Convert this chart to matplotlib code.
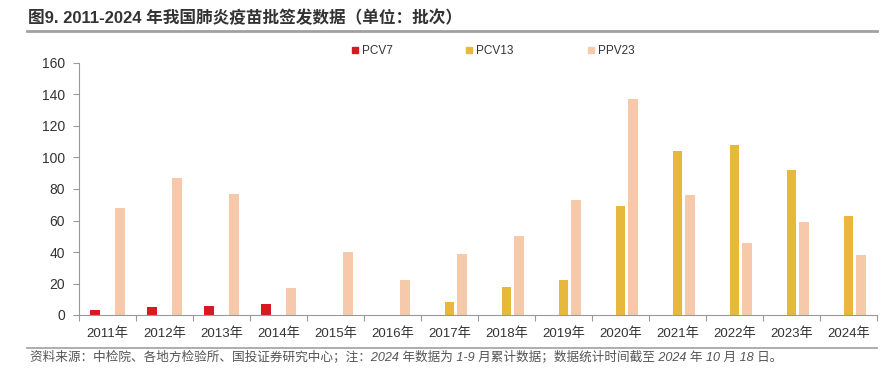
import matplotlib
matplotlib.use("Agg")
import matplotlib.pyplot as plt
import numpy as np
from matplotlib.lines import Line2D

plt.rcParams['font.family'] = ['Liberation Sans', 'Noto Sans CJK SC', 'DejaVu Sans']

years = ['2011年', '2012年', '2013年', '2014年', '2015年', '2016年', '2017年',
         '2018年', '2019年', '2020年', '2021年', '2022年', '2023年', '2024年']
pcv7 = [3, 5, 6, 7, 0, 0, 0, 0, 0, 0, 0, 0, 0, 0]
pcv13 = [0, 0, 0, 0, 0, 0, 8, 18, 22, 69, 104, 108, 92, 63]
ppv23 = [68, 87, 77, 17, 40, 22, 39, 50, 73, 137, 76, 46, 59, 38]
series_names = ['PCV7', 'PCV13', 'PPV23']
colors = ['#D71A21', '#E8B83C', '#F7C9AB']
yticks = [0, 20, 40, 60, 80, 100, 120, 140, 160]

title = '图9. 2011-2024 年我国肺炎疫苗批签发数据（单位：批次）'
footer = ('资料来源：中检院、各地方检验所、国投证券研究中心；注：2024 年数据为 1-9 月累计数据；'
          '数据统计时间截至 2024 年 10 月 18 日。')

fig = plt.figure(figsize=(8.88, 3.75), dpi=100)
ax = fig.add_axes([79/888, 1-315/375, (877-79)/888, (315-63)/375])

x = np.arange(len(years))
w = 0.175
offsets = [-0.22, 0.0, 0.22]
for vals, off, c in zip([pcv7, pcv13, ppv23], offsets, colors):
    v = np.array(vals, dtype=float)
    mask = v > 0
    ax.bar(x[mask] + off, v[mask], width=w, color=c, edgecolor='none', zorder=2)

ax.set_xlim(-0.5, len(years) - 0.5)
ax.set_ylim(0, 160)
ax.set_yticks(yticks)
ax.set_yticklabels([str(t) for t in yticks], fontsize=10, color='#333333')
ax.set_xticks(x)
ax.set_xticklabels(years, fontsize=9.5, color='#333333')
ax.tick_params(axis='x', length=0, pad=9)
ax.set_xticks(np.arange(-0.5, len(years), 1.0), minor=True)
ax.tick_params(axis='x', which='minor', length=4, color='#999999', width=0.8)
ax.tick_params(axis='y', length=4, color='#999999', width=0.8, pad=6)
for s in ['top', 'right']:
    ax.spines[s].set_visible(False)
for s in ['left', 'bottom']:
    ax.spines[s].set_color('#999999')
    ax.spines[s].set_linewidth(0.8)

handles = [Line2D([], [], marker='s', linestyle='none', markersize=5,
                  markerfacecolor=c, markeredgecolor=c) for c in colors]
fig.legend(handles, series_names, loc='center', bbox_to_anchor=(0.5535, 1-51/375),
           ncol=3, frameon=False, fontsize=8.5, columnspacing=6.0, handletextpad=0.1,
           handlelength=1.0, labelcolor='#333333')

fig.text(28/888, 1-18/375, title, fontsize=12, fontweight='bold', color='#333333',
         va='center', ha='left',
         family=['Liberation Sans', 'Noto Sans CJK SC'])
fig.add_artist(Line2D([27/888, 877/888], [1-31/375, 1-31/375], color='#A0A0A0', lw=2))
fig.add_artist(Line2D([27/888, 877/888], [1-348/375, 1-348/375], color='#A0A0A0', lw=1.2))
fig.text(30/888, 1-357/375, footer, fontsize=9.1, color='#555555', va='center', ha='left',
         style='italic', family=['Liberation Sans', 'Noto Sans CJK SC'])

fig.savefig('out.png', dpi=100)
